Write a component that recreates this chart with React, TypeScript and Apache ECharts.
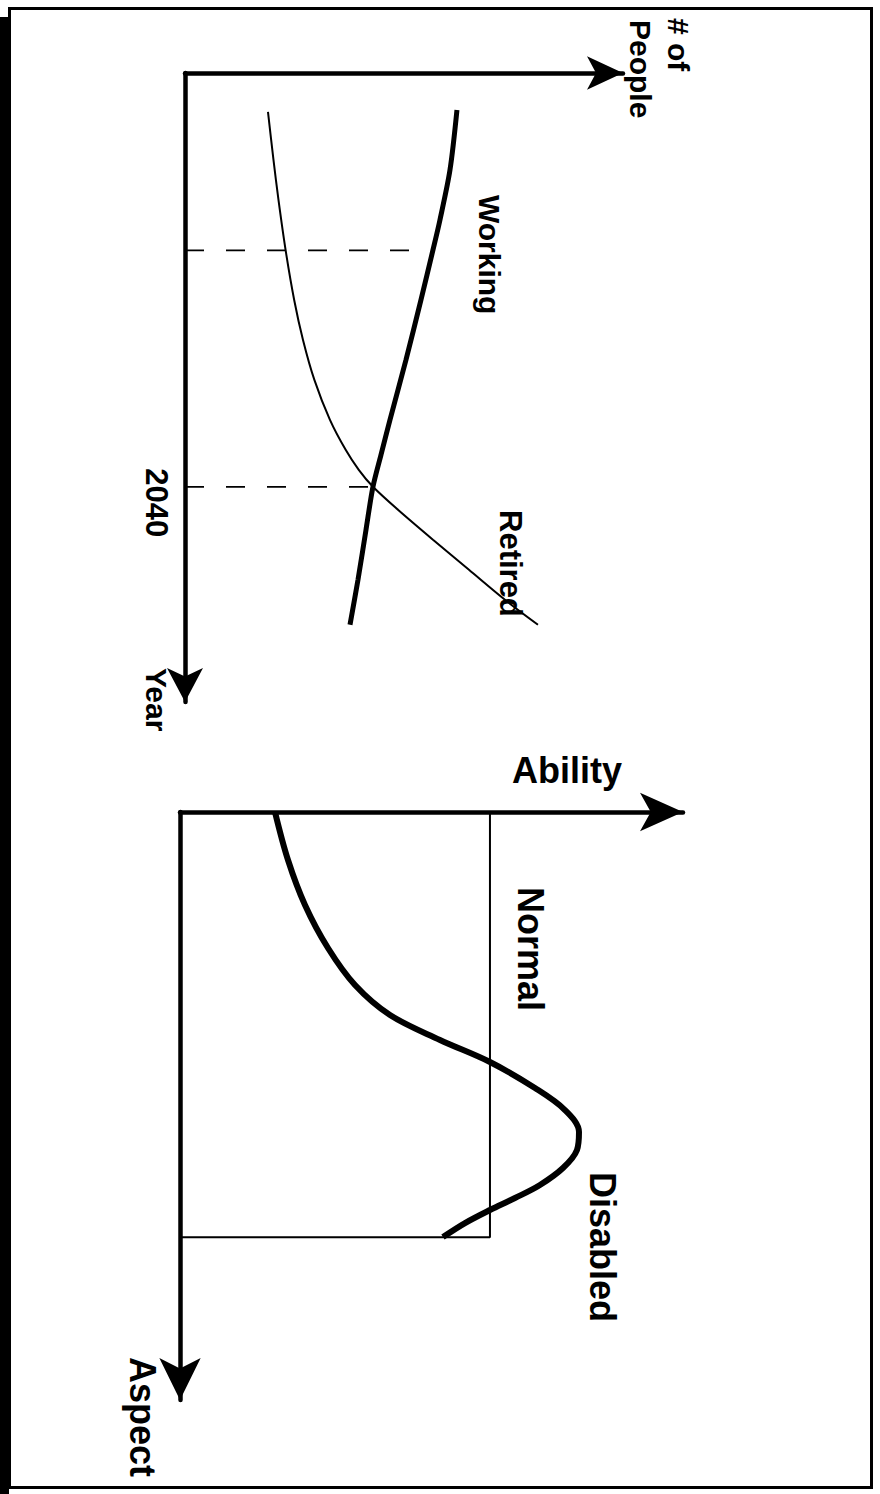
import React, { useEffect, useRef } from 'react';
import * as echarts from 'echarts';

const FONT = '"Liberation Sans", Arial, Helvetica, sans-serif';

// ---- Top panel: number of people (horizontal) vs year (vertical, downward)
const peopleMin = 0;
const peopleMax = 104.3;
const yearMin = 1970;
const yearMax = 2076.4;
const yearStep = 10;
const yearTickLabels = [2040];

const workingPeople = [64.76, 63.1, 60.71, 59.05, 56.19, 52.62, 48.81, 46.67, 44.76, 43.1, 41.19, 39.29];
const workingYears = [1976.26, 1986.4, 1994.86, 1999.93, 2008.39, 2018.53, 2028.68, 2034.6, 2040.0, 2047.27, 2055.73, 2063.34];

const retiredPeople = [19.76, 21.07, 22.26, 23.95, 26.0, 28.1, 30.81, 34.52, 38.26, 41.38, 44.76, 50.71, 59.05, 67.62, 76.19, 84.05];
const retiredYears = [1976.59, 1984.71, 1991.48, 1999.93, 2008.39, 2015.15, 2021.91, 2028.68, 2033.75, 2037.13, 2040.0, 2043.89, 2048.96, 2054.04, 2059.11, 2063.34];

const guideYears = [2000, 2040];
const guideEndPeople = [56.0, 44.76];

// ---- Bottom panel: ability (horizontal) vs aspect (vertical, downward)
const abilityMin = 0;
const abilityMax = 104.8;
const aspectMin = 0;
const aspectMax = 103.7;

const normalLimitAbility = 64.58;
const normalLimitAspect = 75.0;

const curveAbility = [19.79, 22.5, 26.04, 30.83, 36.46, 43.75, 54.17, 64.58, 73.96, 80.21, 83.13, 82.71, 79.79, 75.0, 69.79, 64.58, 59.38, 54.79];
const curveAspect = [0, 8.47, 16.4, 23.99, 30.51, 35.8, 40.2, 44.09, 48.68, 52.56, 56.44, 59.61, 62.79, 65.78, 68.08, 70.19, 72.49, 74.96];

const zip = (a: number[], b: number[]) => a.map((v, i) => [v, b[i]]);

const hiddenAxisParts = {
  axisTick: { show: false },
  splitLine: { show: false },
};

function rotText(text: string, x: number, y: number, size: number) {
  return {
    type: 'text',
    x,
    y,
    rotation: -Math.PI / 2,
    z: 100,
    style: {
      text,
      font: `bold ${size}px ${FONT}`,
      fill: '#000',
      align: 'left',
      verticalAlign: 'middle',
      textAlign: 'left',
      textVerticalAlign: 'middle',
    },
  };
}

export default function App() {
  const ref = useRef<HTMLDivElement>(null);

  useEffect(() => {
    if (!ref.current) return;
    const chart = echarts.init(ref.current, null, { renderer: 'svg' });

    const option: any = {
      animation: false,
      backgroundColor: '#ffffff',
      grid: [
        { left: 185, top: 73, width: 438, height: 629 },
        { left: 180, top: 812, width: 503, height: 588 },
      ],
      xAxis: [
        {
          gridIndex: 0,
          type: 'value',
          min: peopleMin,
          max: peopleMax,
          position: 'top',
          axisLine: {
            show: true,
            onZero: false,
            symbol: ['none', 'arrow'],
            symbolSize: [25, 36],
            lineStyle: { color: '#000', width: 4.5 },
          },
          axisLabel: { show: false },
          ...hiddenAxisParts,
        },
        {
          gridIndex: 1,
          type: 'value',
          min: abilityMin,
          max: abilityMax,
          position: 'top',
          axisLine: {
            show: true,
            onZero: false,
            symbol: ['none', 'arrow'],
            symbolSize: [29, 43],
            lineStyle: { color: '#000', width: 4.5 },
          },
          axisLabel: { show: false },
          ...hiddenAxisParts,
        },
      ],
      yAxis: [
        {
          gridIndex: 0,
          type: 'value',
          inverse: true,
          min: yearMin,
          max: yearMax,
          interval: yearStep,
          axisLine: {
            show: true,
            onZero: false,
            symbol: ['arrow', 'none'],
            symbolSize: [27, 34],
            lineStyle: { color: '#000', width: 4.5 },
          },
          axisLabel: {
            show: true,
            rotate: -90,
            margin: 13,
            padding: [0, 0, 0, 32],
            fontSize: 31,
            fontWeight: 'bold',
            fontFamily: FONT,
            color: '#000',
            showMinLabel: true,
            showMaxLabel: false,
            formatter: (v: number) => (yearTickLabels.indexOf(v) >= 0 ? String(v) : ''),
          },
          ...hiddenAxisParts,
        },
        {
          gridIndex: 1,
          type: 'value',
          inverse: true,
          min: aspectMin,
          max: aspectMax,
          axisLine: {
            show: true,
            onZero: false,
            symbol: ['arrow', 'none'],
            symbolSize: [31, 42],
            lineStyle: { color: '#000', width: 4.5 },
          },
          axisLabel: { show: false },
          ...hiddenAxisParts,
        },
      ],
      series: [
        ...guideYears.map((yr, i) => ({
          type: 'line',
          name: 'guide' + yr,
          xAxisIndex: 0,
          yAxisIndex: 0,
          data: [
            [peopleMin, yr],
            [guideEndPeople[i], yr],
          ],
          showSymbol: false,
          silent: true,
          z: 1,
          lineStyle: { color: '#000', width: 1.8, type: [19, 22] },
        })),
        {
          type: 'line',
          name: 'Working',
          xAxisIndex: 0,
          yAxisIndex: 0,
          data: zip(workingPeople, workingYears),
          showSymbol: false,
          smooth: 0.3,
          z: 3,
          lineStyle: { color: '#000', width: 5 },
        },
        {
          type: 'line',
          name: 'Retired',
          xAxisIndex: 0,
          yAxisIndex: 0,
          data: zip(retiredPeople, retiredYears),
          showSymbol: false,
          smooth: 0.3,
          z: 3,
          lineStyle: { color: '#000', width: 2 },
        },
        {
          type: 'line',
          name: 'Normal range',
          xAxisIndex: 1,
          yAxisIndex: 1,
          data: [
            [abilityMin, normalLimitAspect],
            [normalLimitAbility, normalLimitAspect],
            [normalLimitAbility, aspectMin],
          ],
          showSymbol: false,
          z: 2,
          lineStyle: { color: '#000', width: 2 },
        },
        {
          type: 'line',
          name: 'Ability distribution',
          xAxisIndex: 1,
          yAxisIndex: 1,
          data: zip(curveAbility, curveAspect),
          showSymbol: false,
          smooth: 0.35,
          z: 3,
          lineStyle: { color: '#000', width: 6 },
        },
      ],
      graphic: [
        {
          type: 'rect',
          z: 50,
          shape: { x: 9.5, y: 8.5, width: 862, height: 1479 },
          style: { fill: 'none', stroke: '#000', lineWidth: 3 },
        },
        {
          type: 'rect',
          z: 50,
          shape: { x: 0, y: 17, width: 9, height: 1477 },
          style: { fill: '#000' },
        },
        rotText('# of', 678, 18, 30),
        rotText('People', 640, 20, 30),
        rotText('Working', 489, 195, 30),
        rotText('Retired', 510, 510, 31),
        rotText('Year', 156, 668, 30),
        {
          type: 'text',
          x: 512,
          y: 770,
          z: 100,
          style: {
            text: 'Ability',
            font: `bold 36px ${FONT}`,
            fill: '#000',
            align: 'left',
            verticalAlign: 'middle',
            textAlign: 'left',
            textVerticalAlign: 'middle',
          },
        },
        rotText('Normal', 530, 887, 36),
        rotText('Disabled', 602, 1172, 36),
        rotText('Aspect', 142, 1357, 36),
      ],
    };

    chart.setOption(option);
    return () => chart.dispose();
  }, []);

  return (
    <div
      ref={ref}
      style={{ position: 'fixed', left: 0, top: 0, width: 880, height: 1494, background: '#fff' }}
    />
  );
}
